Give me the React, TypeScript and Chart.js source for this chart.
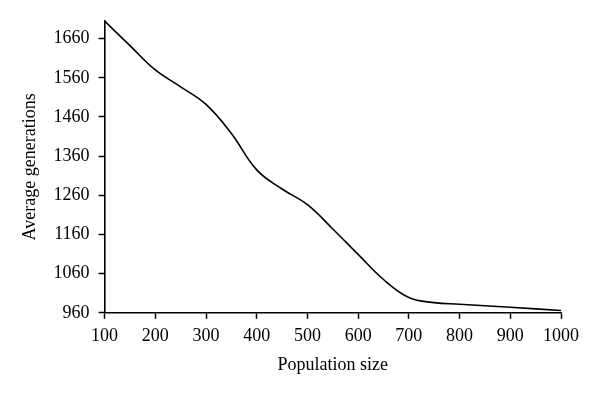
import React, { useEffect, useRef } from "react";
import { Chart, registerables } from "chart.js";

Chart.register(...registerables);

const populationSize = [100, 150, 200, 250, 300, 350, 400, 450, 500, 550, 600, 650, 700, 750, 800, 900, 1000];
const avgGenerations = [1705, 1642, 1580, 1537, 1492, 1418, 1325, 1276, 1236, 1174, 1109, 1045, 999, 986, 982, 974, 966];
const yTickValues = [960, 1060, 1160, 1260, 1360, 1460, 1560, 1660];
const xTickValues = [100, 200, 300, 400, 500, 600, 700, 800, 900, 1000];

const FONT = "'Liberation Serif', 'DejaVu Serif', serif";

export default function App() {
  const ref = useRef<HTMLCanvasElement | null>(null);
  useEffect(() => {
    if (!ref.current) return;
    const chart = new Chart(ref.current, {
      type: "line",
      data: {
        datasets: [
          {
            data: populationSize.map((x, i) => ({ x, y: avgGenerations[i] })),
            borderColor: "#000",
            borderWidth: 1.6,
            pointRadius: 0,
            tension: 0.4,
            fill: false,
          },
        ],
      },
      options: {
        animation: false,
        responsive: false,
        maintainAspectRatio: false,
        plugins: { legend: { display: false }, tooltip: { enabled: false } },
        layout: { padding: { left: 19, right: 39, top: 21, bottom: 19 } },
        scales: {
          x: {
            type: "linear",
            min: 100,
            max: 1000,
            afterBuildTicks: (s: any) => {
              s.ticks = xTickValues.map((v) => ({ value: v }));
            },
            grid: { drawOnChartArea: false, color: "#000", tickLength: 6, tickWidth: 1.5 },
            border: { color: "#000", width: 1.6 },
            ticks: {
              color: "#000",
              font: { family: FONT, size: 18 },
              padding: 7,
              maxRotation: 0,
              callback: (v: any) => String(v),
            },
            title: {
              display: true,
              text: "Population size",
              color: "#000",
              font: { family: FONT, size: 18 },
              padding: { top: 0, bottom: 0 },
            },
          },
          y: {
            type: "linear",
            min: 960,
            max: 1705,
            afterBuildTicks: (s: any) => {
              s.ticks = yTickValues.map((v) => ({ value: v }));
            },
            grid: { drawOnChartArea: false, color: "#000", tickLength: 6, tickWidth: 1.5 },
            border: { color: "#000", width: 1.6 },
            ticks: {
              color: "#000",
              font: { family: FONT, size: 18 },
              padding: 9,
              callback: (v: any) => String(v),
            },
            title: {
              display: true,
              text: "Average generations",
              color: "#000",
              font: { family: FONT, size: 18 },
              padding: { top: 0, bottom: 4 },
            },
          },
        },
      },
    });
    return () => chart.destroy();
  }, []);
  return (
    <div style={{ position: "fixed", left: 0, top: 0, width: 600, height: 395, background: "#fff" }}>
      <canvas ref={ref} width={600} height={395} />
    </div>
  );
}
